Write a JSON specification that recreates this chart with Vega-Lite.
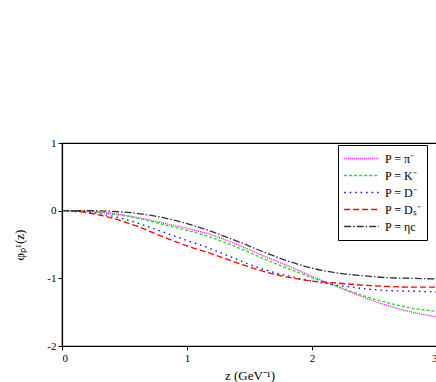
{
  "$schema": "https://vega.github.io/schema/vega-lite/v6.json",
  "width": 375,
  "height": 203,
  "autosize": {"type": "none"},
  "padding": {"left": 62, "top": 143, "right": 0, "bottom": 36},
  "config": {
    "font": "Liberation Serif",
    "view": {"stroke": "black", "strokeWidth": 1.2},
    "axis": {"grid": false, "domainColor": "black", "tickColor": "black", "labelColor": "black", "titleColor": "black", "labelFont": "Liberation Serif", "titleFont": "Liberation Serif", "labelFontSize": 11, "titleFontSize": 13, "titleFontWeight": "normal", "tickSize": 4, "domainWidth": 1.2}
  },
  "data": {"values": [
    {"z":0,"v":0,"s":"pi"},{"z":0.2,"v":-0.01,"s":"pi"},{"z":0.4,"v":-0.04,"s":"pi"},{"z":0.6,"v":-0.1,"s":"pi"},{"z":0.8,"v":-0.18,"s":"pi"},{"z":1.0,"v":-0.26,"s":"pi"},{"z":1.2,"v":-0.36,"s":"pi"},{"z":1.4,"v":-0.5,"s":"pi"},{"z":1.6,"v":-0.66,"s":"pi"},{"z":1.8,"v":-0.81,"s":"pi"},{"z":2.0,"v":-0.97,"s":"pi"},{"z":2.2,"v":-1.12,"s":"pi"},{"z":2.4,"v":-1.27,"s":"pi"},{"z":2.6,"v":-1.4,"s":"pi"},{"z":2.8,"v":-1.5,"s":"pi"},{"z":3.0,"v":-1.57,"s":"pi"},
    {"z":0,"v":0,"s":"K"},{"z":0.2,"v":-0.01,"s":"K"},{"z":0.4,"v":-0.05,"s":"K"},{"z":0.6,"v":-0.11,"s":"K"},{"z":0.8,"v":-0.2,"s":"K"},{"z":1.0,"v":-0.29,"s":"K"},{"z":1.2,"v":-0.4,"s":"K"},{"z":1.4,"v":-0.54,"s":"K"},{"z":1.6,"v":-0.7,"s":"K"},{"z":1.8,"v":-0.85,"s":"K"},{"z":2.0,"v":-0.99,"s":"K"},{"z":2.2,"v":-1.12,"s":"K"},{"z":2.4,"v":-1.25,"s":"K"},{"z":2.6,"v":-1.36,"s":"K"},{"z":2.8,"v":-1.44,"s":"K"},{"z":3.0,"v":-1.49,"s":"K"},
    {"z":0,"v":0,"s":"D"},{"z":0.2,"v":-0.02,"s":"D"},{"z":0.4,"v":-0.08,"s":"D"},{"z":0.6,"v":-0.18,"s":"D"},{"z":0.8,"v":-0.31,"s":"D"},{"z":1.0,"v":-0.44,"s":"D"},{"z":1.2,"v":-0.57,"s":"D"},{"z":1.4,"v":-0.72,"s":"D"},{"z":1.6,"v":-0.86,"s":"D"},{"z":1.8,"v":-0.96,"s":"D"},{"z":2.0,"v":-1.04,"s":"D"},{"z":2.2,"v":-1.1,"s":"D"},{"z":2.4,"v":-1.15,"s":"D"},{"z":2.6,"v":-1.18,"s":"D"},{"z":2.8,"v":-1.19,"s":"D"},{"z":3.0,"v":-1.2,"s":"D"},
    {"z":0,"v":0,"s":"Ds"},{"z":0.2,"v":-0.03,"s":"Ds"},{"z":0.4,"v":-0.11,"s":"Ds"},{"z":0.6,"v":-0.23,"s":"Ds"},{"z":0.8,"v":-0.38,"s":"Ds"},{"z":1.0,"v":-0.52,"s":"Ds"},{"z":1.2,"v":-0.64,"s":"Ds"},{"z":1.4,"v":-0.77,"s":"Ds"},{"z":1.6,"v":-0.89,"s":"Ds"},{"z":1.8,"v":-0.98,"s":"Ds"},{"z":2.0,"v":-1.04,"s":"Ds"},{"z":2.2,"v":-1.07,"s":"Ds"},{"z":2.4,"v":-1.1,"s":"Ds"},{"z":2.6,"v":-1.12,"s":"Ds"},{"z":2.8,"v":-1.13,"s":"Ds"},{"z":3.0,"v":-1.13,"s":"Ds"},
    {"z":0,"v":0,"s":"eta"},{"z":0.2,"v":0,"s":"eta"},{"z":0.4,"v":-0.01,"s":"eta"},{"z":0.6,"v":-0.04,"s":"eta"},{"z":0.8,"v":-0.1,"s":"eta"},{"z":1.0,"v":-0.19,"s":"eta"},{"z":1.2,"v":-0.31,"s":"eta"},{"z":1.4,"v":-0.45,"s":"eta"},{"z":1.6,"v":-0.6,"s":"eta"},{"z":1.8,"v":-0.74,"s":"eta"},{"z":2.0,"v":-0.85,"s":"eta"},{"z":2.2,"v":-0.92,"s":"eta"},{"z":2.4,"v":-0.96,"s":"eta"},{"z":2.6,"v":-0.99,"s":"eta"},{"z":2.8,"v":-1.0,"s":"eta"},{"z":3.0,"v":-1.01,"s":"eta"}
  ]},
  "mark": {"type": "line", "interpolate": "monotone", "strokeWidth": 1.3},
  "encoding": {
    "x": {"field": "z", "type": "quantitative", "scale": {"domain": [0, 3], "nice": false}, "axis": {"values": [0,1,2,3], "title": "z (GeV⁻¹)", "titlePadding": 6}},
    "y": {"field": "v", "type": "quantitative", "scale": {"domain": [-2, 1], "nice": false}, "axis": {"values": [-2,-1,0,1], "title": "φₚ¹(z)", "labelExpr": "replace(datum.label, '−', '-')", "titlePadding": 20}},
    "color": {"field": "s", "type": "nominal",
      "scale": {"domain": ["pi","K","D","Ds","eta"], "range": ["#ff00ff","#22dd22","#0000ff","#ff0000","#333333"]},
      "legend": {"title": null, "orient": "none", "legendX": 276, "legendY": 2, "symbolType": "stroke", "symbolSize": 1200, "symbolStrokeWidth": 1.5, "clipHeight": 17, "labelFont": "Liberation Serif", "labelFontSize": 12, "labelColor": "black", "strokeColor": "black", "fillColor": "white", "padding": 5, "rowPadding": 0, "labelOffset": 5,
        "labelExpr": "datum.value == 'pi' ? 'P = π⁻' : datum.value == 'K' ? 'P = K⁻' : datum.value == 'D' ? 'P = D⁻' : datum.value == 'Ds' ? 'P = Dₛ⁻' : 'P = ηc'"}},
    "strokeDash": {"field": "s", "type": "nominal",
      "scale": {"domain": ["pi","K","D","Ds","eta"], "range": [[1,1],[3,2],[1.5,4],[6,3],[7,2,1.5,2]]}}
  }
}
